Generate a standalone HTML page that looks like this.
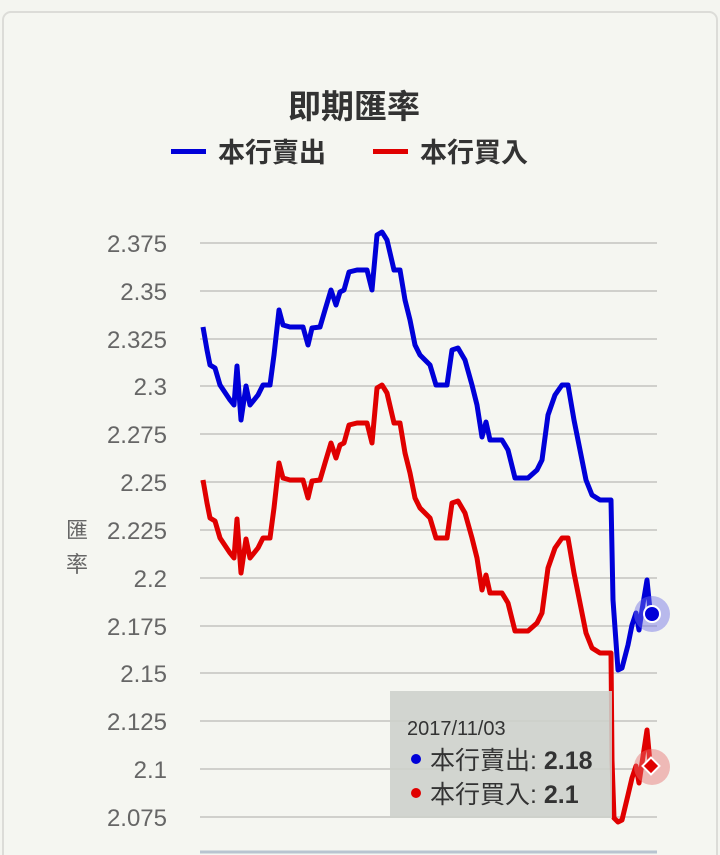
<!DOCTYPE html>
<html><head><meta charset="utf-8"><style>
body{margin:0;width:720px;height:855px;background:#f4f5f0;overflow:hidden;font-family:"Liberation Sans","Noto Sans CJK TC",sans-serif}
</style></head><body>
<svg width="720" height="855" xmlns="http://www.w3.org/2000/svg" style="position:absolute;left:0;top:0">
<rect x="3" y="12" width="714" height="860" rx="8" fill="#f5f6f1" stroke="#dcdcd8" stroke-width="2"/>
<text x="354" y="118" text-anchor="middle" font-size="33" font-weight="bold" fill="#333" font-family="Liberation Sans,Noto Sans CJK TC,sans-serif">即期匯率</text>
<rect x="171" y="149" width="35" height="5" fill="#0000d8"/>
<text x="218" y="162" font-size="27" font-weight="bold" fill="#333" font-family="Liberation Sans,Noto Sans CJK TC,sans-serif">本行賣出</text>
<rect x="373" y="149" width="35" height="5" fill="#e00000"/>
<text x="420" y="162" font-size="27" font-weight="bold" fill="#333" font-family="Liberation Sans,Noto Sans CJK TC,sans-serif">本行買入</text>
<g stroke="#d0d0cc" stroke-width="2">
<line x1="200" x2="657" y1="243" y2="243"/><line x1="200" x2="657" y1="291" y2="291"/><line x1="200" x2="657" y1="339" y2="339"/><line x1="200" x2="657" y1="386" y2="386"/><line x1="200" x2="657" y1="434" y2="434"/><line x1="200" x2="657" y1="482" y2="482"/><line x1="200" x2="657" y1="530" y2="530"/><line x1="200" x2="657" y1="578" y2="578"/><line x1="200" x2="657" y1="626" y2="626"/><line x1="200" x2="657" y1="673" y2="673"/><line x1="200" x2="657" y1="721" y2="721"/><line x1="200" x2="657" y1="769" y2="769"/><line x1="200" x2="657" y1="817" y2="817"/>
</g>
<line x1="200" x2="657" y1="852" y2="852" stroke="#b8c4d0" stroke-width="3"/>
<g font-size="24" fill="#666" text-anchor="end">
<text x="167" y="252">2.375</text><text x="167" y="300">2.35</text><text x="167" y="348">2.325</text><text x="167" y="395">2.3</text><text x="167" y="443">2.275</text><text x="167" y="491">2.25</text><text x="167" y="539">2.225</text><text x="167" y="587">2.2</text><text x="167" y="635">2.175</text><text x="167" y="682">2.15</text><text x="167" y="730">2.125</text><text x="167" y="778">2.1</text><text x="167" y="826">2.075</text>
</g>
<text x="77" y="538" font-size="22" fill="#666" text-anchor="middle">匯</text>
<text x="77" y="572" font-size="22" fill="#666" text-anchor="middle">率</text>
<polyline fill="none" stroke="#0000d8" stroke-width="5" stroke-linejoin="round" points="203,327 207,350 210,365 215,368 220,385 230,400 234,405 237,366 241,420 246,386 250,405 258,395 263,385 270,385 274,355 279,310 283,325 290,327 303,327 308,345 312,328 320,327 325,310 331,290 336,305 340,292 344,290 349,272 357,270 367,270 372,290 377,235 382,232 387,240 394,270 400,270 405,300 410,320 415,345 420,355 430,365 436,385 447,385 452,350 458,348 465,360 472,385 477,405 482,437 486,422 490,440 502,440 508,450 515,478 528,478 537,470 542,460 548,415 555,395 562,385 568,385 574,420 580,450 586,480 592,495 600,500 611,500 613,600 618,670 622,668 628,645 632,625 636,613 639,630 642,610 647,580 650,610 654,615"/>
<polyline fill="none" stroke="#e00000" stroke-width="5" stroke-linejoin="round" points="203,480 207,503 210,518 215,521 220,538 230,553 234,558 237,519 241,573 246,539 250,558 258,548 263,538 270,538 274,508 279,463 283,478 290,480 303,480 308,498 312,481 320,480 325,463 331,443 336,458 340,445 344,443 349,425 357,423 367,423 372,443 377,388 382,385 387,393 394,423 400,423 405,453 410,473 415,498 420,508 430,518 436,538 447,538 452,503 458,501 465,513 472,538 477,558 482,590 486,575 490,593 502,593 508,603 515,631 528,631 537,623 542,613 548,568 555,548 562,538 568,538 574,573 580,603 586,633 592,648 600,653 611,653 612,760 614,818 618,822 622,820 628,795 632,778 636,766 639,783 642,763 647,730 650,763 654,768"/>
<circle cx="652" cy="614" r="18" fill="rgba(110,110,230,0.45)"/>
<circle cx="652" cy="614" r="8" fill="#0000d8" stroke="#fff" stroke-width="2"/>
<circle cx="652" cy="767" r="18" fill="rgba(230,110,110,0.45)"/>
<rect x="645" y="760" width="12" height="12" fill="#e00000" stroke="#fff" stroke-width="2" transform="rotate(45 651 766)"/>
<rect x="390" y="691" width="222" height="127" fill="rgba(205,208,203,0.88)"/>
<text x="407" y="735" font-size="20" fill="#333">2017/11/03</text>
<circle cx="416" cy="759" r="5" fill="#0000d8"/>
<text x="430" y="769" font-size="25" fill="#333">本行賣出: <tspan font-weight="bold">2.18</tspan></text>
<circle cx="416" cy="793" r="5" fill="#e00000"/>
<text x="430" y="803" font-size="25" fill="#333">本行買入: <tspan font-weight="bold">2.1</tspan></text>
</svg>
</body></html>
